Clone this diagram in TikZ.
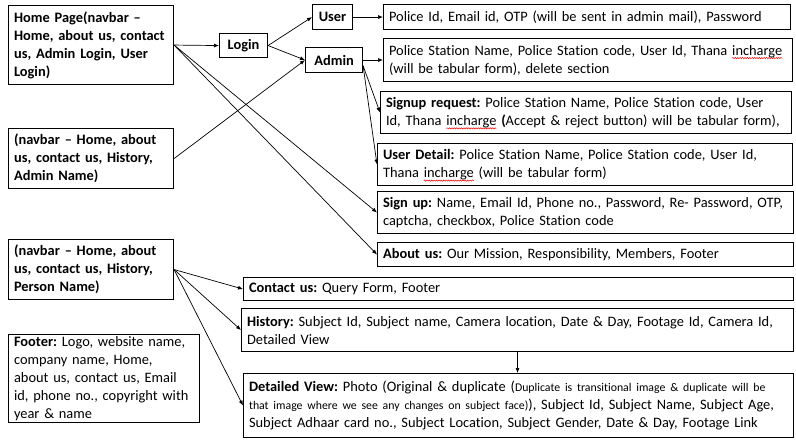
\documentclass[tikz,border=0pt]{standalone}
\usepackage{fontspec}
\setmainfont{Carlito}[Ligatures=CommonOff]
\usetikzlibrary{arrows.meta,decorations.pathmorphing}
\newcommand{\redwave}[1]{\smash{\tikz[baseline=(w.base)]{\node[draw=none,inner sep=0pt,outer sep=0pt,
        minimum width=0pt,minimum height=0pt,text width={},anchor=base] (w) {#1};
    \draw[overlay,red,line width=0.5pt,decorate,decoration={snake,amplitude=0.6pt,segment length=2.4pt}]
        ([yshift=-3pt]w.base west) -- ([yshift=-3pt]w.base east);}}}

\begin{document}
\begin{tikzpicture}[x=1pt,y=-1pt,
        box/.style={draw,line width=1.1pt,anchor=north west,align=left,inner xsep=5.5pt,inner ysep=0pt,
            font=\fontsize{14.4}{18}\selectfont\frenchspacing},
        navbox/.style={box,text width=154pt,font=\fontsize{14.4}{18}\selectfont\frenchspacing\bfseries},
        tag/.style={draw,line width=1.1pt,anchor=north west,inner sep=0pt,align=center,
            font=\fontsize{14.4}{18}\selectfont\bfseries},
        link/.style={line width=0.7pt,-{Latex[length=5pt,width=4pt]}}]
        \useasboundingbox (0,0) rectangle (796,444);

        \node[navbox,minimum height=79pt] (home) at (8,5) {Home Page(navbar --\\Home, about us, contact\\us, Admin Login, User\\Login)};
        \node[navbox,minimum height=60pt] (adminnav) at (8,128) {(navbar -- Home, about\\us, contact us, History,\\Admin Name)};
        \node[navbox,minimum height=60pt] (personnav) at (8,239) {(navbar -- Home, about\\us, contact us, History,\\Person Name)};
        \node[box,text width=180pt,minimum height=88pt] (footer) at (8,334) {\textbf{Footer:} Logo, website name,\\company name, Home,\\about us, contact us, Email\\id, phone no., copyright with\\year \& name};

        \node[tag,minimum width=48pt,minimum height=24pt] (login) at (219,33) {Login};
        \node[tag,minimum width=40pt,minimum height=25pt] (user) at (312,4) {User};
        \node[tag,minimum width=57pt,minimum height=25pt] (admin) at (305,47) {Admin};

        \node[box,text width=396pt,minimum height=25pt] (userinfo) at (383,4) {Police Id, Email id, OTP (will be sent in admin mail), Password};
        \node[box,text width=398pt,minimum height=43pt] (admininfo) at (383,38) {Police Station Name, Police Station code, User Id, Thana \redwave{incharge}\\(will be tabular form), delete section};
        \node[box,text width=400pt,minimum height=42pt] (signreq) at (380,91) {\textbf{Signup request:} Police Station Name, Police Station code, User\\Id, Thana \redwave{incharge} \textbf{(}Accept \& reject button) will be tabular form),};
        \node[box,text width=404pt,minimum height=42pt] (userdetail) at (377,143) {\textbf{User Detail:} Police Station Name, Police Station code, User Id,\\Thana \redwave{incharge} (will be tabular form)};
        \node[box,text width=405pt,minimum height=42pt] (signup) at (377,191) {\textbf{Sign up:} Name, Email Id, Phone no., Password, Re- Password, OTP,\\captcha, checkbox, Police Station code};
        \node[box,text width=405pt,minimum height=24pt] (about) at (377,242) {\textbf{About us:} Our Mission, Responsibility, Members, Footer};

        \node[box,text width=539pt,minimum height=23pt] (contact) at (243,277) {\textbf{Contact us:} Query Form, Footer};
        \node[box,text width=541pt,minimum height=43pt] (history) at (241,308) {\textbf{History:} Subject Id, Subject name, Camera location, Date \& Day, Footage Id, Camera Id,\\Detailed View};
        \node[box,text width=539pt,minimum height=64pt] (detail) at (243,373) {\textbf{Detailed View:} Photo (Original \& duplicate ({\fontsize{11.8}{18}\selectfont Duplicate is transitional image \& duplicate will be\\that image where we see any changes on subject face)}), Subject Id, Subject Name, Subject Age,\\Subject Adhaar card no., Subject Location, Subject Gender, Date \& Day, Footage Link};

        \draw[link] (home.east) -- (login.west);
        \draw[link] (home.east) -- (signup.west);
        \draw[link] (home.east) -- (about.west);
        \draw[link] (login.east) -- (user.west);
        \draw[link] (login.east) -- (admin.west);
        \draw[link] (adminnav.east) -- (admin.west);
        \draw[link] (user.east) -- (userinfo.west);
        \draw[link] (admin.east) -- (admininfo.west);
        \draw[link] (admin.-11) -- (signreq.west);
        \draw[link] (admin.-11) -- (userdetail.west);
        \draw[link] (personnav.east) -- (contact.west);
        \draw[link] (personnav.east) -- (history.west);
        \draw[link] (personnav.east) -- (detail.west);
        \draw[link] (history.south) -- (history.south |- detail.north);
    \end{tikzpicture}
\end{document}
